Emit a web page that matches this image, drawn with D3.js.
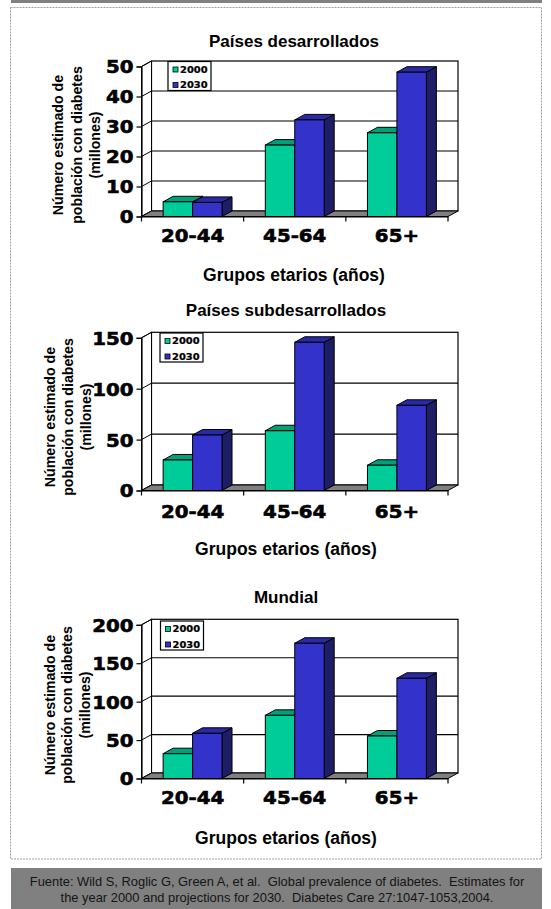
<!DOCTYPE html>
<html>
<head>
<meta charset="utf-8">
<script src="https://cdn.jsdelivr.net/npm/d3@7"></script>
<style>
  html, body { margin: 0; padding: 0; background: #fff; }
  svg { display: block; }
</style>
</head>
<body>
<div id="chart"></div>
<script>
// ---------------- data ----------------
const categories = ["20-44", "45-64", "65+"];
const seriesNames = ["2000", "2030"];

const titles = ["Países desarrollados", "Países subdesarrollados", "Mundial"];

const developed2000 = [4.9, 23.8, 27.9];
const developed2030 = [4.7, 32.2, 48.1];

const developing2000 = [30, 58.7, 24.8];
const developing2030 = [54.5, 145.6, 83.7];

const world2000 = [32.3, 82.2, 55.3];
const world2030 = [58.8, 176, 130.4];

const ticksDeveloped = [0, 10, 20, 30, 40, 50];
const ticksDeveloping = [0, 50, 100, 150];
const ticksWorld = [0, 50, 100, 150, 200];

const yTitleLines = ["Número estimado de", "población con diabetes", "(millones)"];
const xTitle = "Grupos etarios (años)";
const sourceLines = [
  "Fuente: Wild S, Roglic G, Green A, et al.  Global prevalence of diabetes.  Estimates for",
  "the year 2000 and projections for 2030.  Diabetes Care 27:1047-1053,2004."
];

// ---------------- layout ----------------
const W = 551, H = 909;
const colors = {
  "2000": { front: "#00CC99", top: "#00A078", side: "#006B50" },
  "2030": { front: "#3333CC", top: "#2A2AA6", side: "#1E1E66" }
};
const DX = 10, DY = 5.5;       // 3D depth offset
const X0 = 141.5, X1 = 448;     // front floor edge

const panels = [
  { title: titles[0], s2000: developed2000, s2030: developed2030, ticks: ticksDeveloped,
    yBase: 216.5, yTop: 66.5, shift: 8, titleY: 47, catY: 242, xTitleY: 281, yTitleY: 145,
    yTitleX: [63, 81.5, 99.5], legend: [168, 61.5] },
  { title: titles[1], s2000: developing2000, s2030: developing2030, ticks: ticksDeveloping,
    yBase: 490.5, yTop: 337.8, shift: 0, titleY: 316, catY: 518, xTitleY: 555, yTitleY: 417,
    yTitleX: [55, 73, 91], legend: [160, 333] },
  { title: titles[2], s2000: world2000, s2030: world2030, ticks: ticksWorld,
    yBase: 778.5, yTop: 624.8, shift: 0, titleY: 603, catY: 804, xTitleY: 844, yTitleY: 705,
    yTitleX: [54.5, 72, 89.5], legend: [160.5, 621] }
];

const svg = d3.select("#chart").append("svg")
  .attr("width", W).attr("height", H)
  .attr("viewBox", `0 0 ${W} ${H}`);

// page frame
svg.append("rect").attr("x", 11).attr("y", 0).attr("width", 531).attr("height", 3).attr("fill", "#808080");
svg.append("rect").attr("x", 10.5).attr("y", 7.5).attr("width", 531).attr("height", 851.5)
  .attr("fill", "none").attr("stroke", "#a0a0a0").attr("stroke-width", 1).attr("stroke-dasharray", "2,1");

const x = d3.scaleBand().domain(categories).range([X0, X1]);
const xs = d3.scaleBand().domain(seriesNames).range([0, x.bandwidth()]).paddingInner(0).paddingOuter(0.735);

panels.forEach(p => {
  const g = svg.append("g");
  const top = p.ticks[p.ticks.length - 1];
  const yF = d3.scaleLinear().domain([0, top]).range([p.yBase, p.yTop]);
  const yB = v => yF(v) - DY;
  const cx = 286 + p.shift;

  // back wall
  g.append("rect").attr("x", X0 + DX).attr("y", yB(top)).attr("width", X1 - X0)
    .attr("height", yB(0) - yB(top)).attr("fill", "#fff").attr("stroke", "#000").attr("stroke-width", 1.2);
  // gridlines on back wall
  g.selectAll(".grid").data(p.ticks.slice(1, -1)).join("line")
    .attr("x1", X0 + DX).attr("x2", X1 + DX).attr("y1", d => yB(d)).attr("y2", d => yB(d))
    .attr("stroke", "#000").attr("stroke-width", 1.2);
  // left side wall
  g.append("path").attr("d", `M${X0},${yF(top)}L${X0 + DX},${yB(top)}L${X0 + DX},${yB(0)}L${X0},${yF(0)}Z`)
    .attr("fill", "#fff").attr("stroke", "#000").attr("stroke-width", 1);
  g.selectAll(".sgrid").data(p.ticks).join("line")
    .attr("x1", X0).attr("x2", X0 + DX).attr("y1", d => yF(d)).attr("y2", d => yB(d))
    .attr("stroke", "#000").attr("stroke-width", 1);
  // floor
  g.append("path").attr("d", `M${X0},${yF(0)}L${X0 + DX},${yB(0)}L${X1 + DX},${yB(0)}L${X1},${yF(0)}Z`)
    .attr("fill", "#808080").attr("stroke", "#000").attr("stroke-width", 1);

  // bars
  const rows = [];
  categories.forEach((c, i) => {
    seriesNames.forEach(s => rows.push({ c, s, v: (s === "2000" ? p.s2000 : p.s2030)[i] }));
  });
  const bars = g.selectAll(".bar").data(rows).join("g");
  bars.each(function (d) {
    const b = d3.select(this);
    const x0 = x(d.c) + xs(d.s), x1 = x0 + xs.bandwidth();
    const yt = yF(d.v), y0 = yF(0);
    const col = colors[d.s];
    b.append("path").attr("d", `M${x1},${yt}L${x1 + DX},${yt - DY}L${x1 + DX},${y0 - DY}L${x1},${y0}Z`)
      .attr("fill", col.side).attr("stroke", "#000").attr("stroke-width", 1).attr("stroke-linejoin", "round");
    b.append("path").attr("d", `M${x0},${yt}L${x0 + DX},${yt - DY}L${x1 + DX},${yt - DY}L${x1},${yt}Z`)
      .attr("fill", col.top).attr("stroke", "#000").attr("stroke-width", 1).attr("stroke-linejoin", "round");
    b.append("rect").attr("x", x0).attr("y", yt).attr("width", x1 - x0).attr("height", y0 - yt)
      .attr("fill", col.front).attr("stroke", "#000").attr("stroke-width", 1);
  });

  // y axis
  const yAxis = g.append("g").attr("transform", `translate(${X0},0)`)
    .call(d3.axisLeft(yF).tickValues(p.ticks).tickSize(5).tickPadding(3).tickFormat(d3.format("d")));
  yAxis.select(".domain").attr("stroke", "#000").attr("stroke-width", 1.2);
  yAxis.selectAll(".tick line").attr("stroke", "#000").attr("stroke-width", 1.2);
  yAxis.selectAll(".tick text")
    .attr("font-family", "DejaVu Sans").attr("font-weight", "bold").attr("font-size", 18)
    .attr("fill", "#000").attr("stroke", "#000").attr("stroke-width", 0.6)
    .attr("dy", "0.36em").attr("x", null)
    .attr("transform", "translate(-8,0) scale(1.1,1)");

  // x axis (labels) + boundary ticks
  const xAxis = g.append("g").attr("transform", `translate(0,${p.yBase})`)
    .call(d3.axisBottom(x).tickSize(0).tickPadding(0));
  xAxis.select(".domain").attr("stroke", "#000").attr("stroke-width", 1.2);
  xAxis.selectAll(".tick text")
    .attr("font-family", "DejaVu Sans").attr("font-weight", "bold").attr("font-size", 18)
    .attr("fill", "#000").attr("stroke", "#000").attr("stroke-width", 0.6)
    .attr("dy", null).attr("y", 0)
    .attr("transform", `translate(0,${p.catY - p.yBase}) scale(1.1,1)`);
  const bounds = categories.map(c => x(c)).concat([x.range()[1]]);
  g.selectAll(".xtick").data(bounds).join("line")
    .attr("x1", d => d).attr("x2", d => d).attr("y1", p.yBase).attr("y2", p.yBase + 5)
    .attr("stroke", "#000").attr("stroke-width", 1.2);

  // titles
  g.append("text").attr("x", cx).attr("y", p.titleY).attr("text-anchor", "middle")
    .attr("font-family", "Liberation Sans").attr("font-weight", "bold").attr("font-size", 17)
    .text(p.title);
  g.append("text").attr("x", cx).attr("y", p.xTitleY).attr("text-anchor", "middle")
    .attr("font-family", "Liberation Sans").attr("font-weight", "bold").attr("font-size", 17.5)
    .text(xTitle);
  yTitleLines.forEach((t, i) => {
    g.append("text").attr("transform", `translate(${p.yTitleX[i]},${p.yTitleY}) rotate(-90)`)
      .attr("text-anchor", "middle")
      .attr("font-family", "Liberation Sans").attr("font-weight", "bold").attr("font-size", 14.2)
      .text(t);
  });

  // legend
  const lg = g.append("g").attr("transform", `translate(${p.legend[0]},${p.legend[1]})`);
  lg.append("rect").attr("width", 43).attr("height", 29).attr("fill", "#fff").attr("stroke", "#000").attr("stroke-width", 1.2);
  seriesNames.forEach((s, i) => {
    const cy = 8 + i * 15.5;
    lg.append("rect").attr("x", 5).attr("y", cy - 2.5).attr("width", 5).attr("height", 5)
      .attr("fill", colors[s].front).attr("stroke", "#000").attr("stroke-width", 0.8);
    lg.append("text").attr("transform", `translate(12,${cy}) scale(1.1,1)`).attr("dy", "0.36em")
      .attr("font-family", "DejaVu Sans").attr("font-weight", "bold").attr("font-size", 9)
      .attr("stroke", "#000").attr("stroke-width", 0.25)
      .text(s);
  });
});

// source footer
svg.append("rect").attr("x", 11).attr("y", 868).attr("width", 531).attr("height", 41).attr("fill", "#808080");
svg.selectAll(".src").data(sourceLines).join("text")
  .attr("x", 277).attr("y", (d, i) => 886 + i * 15.5).attr("text-anchor", "middle")
  .attr("font-family", "Liberation Sans").attr("font-size", 12.9).attr("fill", "#141414")
  .style("white-space", "pre").text(d => d);
</script>
</body>
</html>
